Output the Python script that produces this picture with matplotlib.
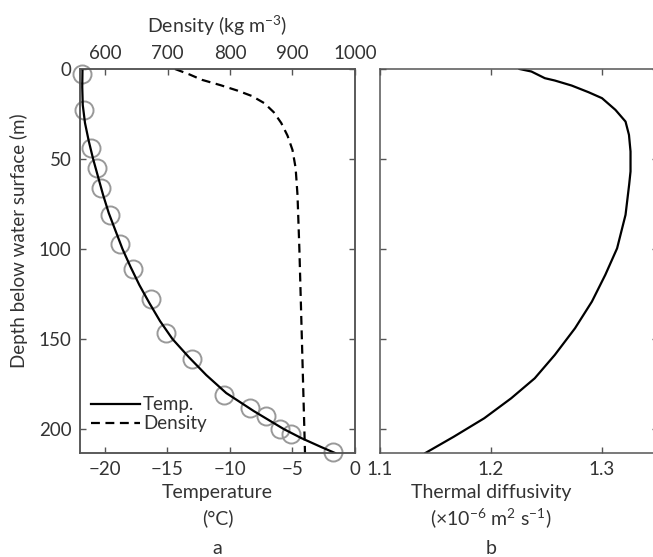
"""
Temperature, density and thermal diffusivity profiles below the water surface.
"""
import matplotlib

matplotlib.use("Agg")
import matplotlib.pyplot as plt
from matplotlib.lines import Line2D

# measured temperatures (circles)
obs_depth = [3, 23, 44, 55, 66, 81, 97, 111, 128, 146.5, 161, 181, 188.5, 193, 200, 203, 213]
obs_temp = [-21.85, -21.7, -21.1, -20.65, -20.35, -19.6, -18.8, -17.75, -16.3,
            -15.1, -13.0, -10.45, -8.4, -7.15, -6.0, -5.15, -1.75]

# fitted temperature profile
fit_depth = [0, 10, 20, 30, 40, 50, 60, 70, 80, 90, 100, 110, 120, 130, 140,
             150, 160, 170, 180, 190, 200, 205, 210, 213.3]
fit_temp = [-21.8, -21.82, -21.78, -21.6, -21.3, -20.95, -20.55, -20.15, -19.7,
            -19.15, -18.6, -17.95, -17.25, -16.45, -15.6, -14.6, -13.3, -11.9,
            -10.3, -8.1, -5.7, -4.3, -2.7, -1.6]

# density profile
dens_depth = [0, 3, 6, 9, 12, 15, 19, 24, 30, 37, 45, 55, 70, 100, 150, 213.3]
density = [712, 735, 755, 785, 812, 835, 855, 870, 882, 892, 900, 905, 908, 911, 915, 920]

# thermal diffusivity profile
diff_depth = [0, 1.4, 5.1, 6.4, 9.2, 12.9, 16.2, 22.7, 29.2, 36.6, 45.8, 56.9,
              64, 81, 99.6, 114.3, 129.2, 144, 158.8, 171.8, 182.9, 194, 204.2, 213.3]
diffusivity = [1.2257, 1.2364, 1.2485, 1.2575, 1.2727, 1.2879, 1.3, 1.3121,
               1.3212, 1.3243, 1.3257, 1.3257, 1.3245, 1.3212, 1.3136, 1.303,
               1.2909, 1.2757, 1.2575, 1.2394, 1.2182, 1.1939, 1.1666, 1.1409]

depth_ticks = [0, 50, 100, 150, 200]

plt.rcParams["font.family"] = ["Lato", "DejaVu Sans"]
plt.rcParams["mathtext.default"] = "regular"
plt.rcParams["font.size"] = 14

SPINE = "#555555"
TEXT = "#333333"
W, H = 653, 557
LW = 1.6


def _style(ax):
    for spine in ax.spines.values():
        spine.set_color(SPINE)
        spine.set_linewidth(1.1)
    ax.tick_params(direction="in", length=4, width=1, color=SPINE,
                   labelcolor=TEXT, labelsize=13.5)


fig = plt.figure(figsize=(W / 100, H / 100), dpi=100)

# panel a
ax1 = fig.add_axes([80 / W, 1 - 453 / H, 275 / W, 384 / H])
ax1.plot(fit_temp, fit_depth, "-", color="black", linewidth=LW, zorder=3)
ax1.plot(obs_temp, obs_depth, "o", markersize=13, markerfacecolor="none",
         markeredgecolor="#999999", markeredgewidth=1.4, zorder=2, clip_on=False)
ax1.set_xlim(-22, 0)
ax1.set_ylim(213.3, 0)
ax1.set_xticks([-20, -15, -10, -5, 0])
ax1.set_xticklabels(["\u221220", "\u221215", "\u221210", "\u22125", "0"])
ax1.set_yticks(depth_ticks)
_style(ax1)
ax1.tick_params(right=True, pad=6)
ax1.set_ylabel("Depth below water surface (m)", color=TEXT, fontsize=13.5)
ax1.yaxis.set_label_coords(-0.19, 0.552)
ax1.text(0.5, -0.104, "Temperature", transform=ax1.transAxes, ha="center",
         va="center", color=TEXT)
ax1.text(0.5, -0.17, "(\u00b0C)", transform=ax1.transAxes, ha="center",
         va="center", color=TEXT)
ax1.text(0.5, -0.25, "a", transform=ax1.transAxes, ha="center",
         va="center", color=TEXT)

ax1b = ax1.twiny()
ax1b.plot(density, dens_depth, "--", color="black", linewidth=LW, dashes=(4, 2.5))
ax1b.set_xlim(560, 1000)
ax1b.set_xticks([600, 700, 800, 900, 1000])
ax1b.set_ylim(213.3, 0)
_style(ax1b)
ax1b.tick_params(pad=5)
ax1b.set_xlabel("Density (kg m$^{-3}$)", color=TEXT, labelpad=9)

handles = [Line2D([], [], color="black", linewidth=LW),
           Line2D([], [], color="black", linewidth=LW, linestyle="--", dashes=(4, 2.5))]
ax1b.legend(handles, ["Temp.", "Density"], loc="lower left", frameon=False,
            handlelength=2.6, handletextpad=0.15, labelspacing=0.1,
            bbox_to_anchor=(0.0, 0.025), borderaxespad=0.2, fontsize=13.5,
            labelcolor=TEXT)

# panel b
ax2 = fig.add_axes([380 / W, 1 - 453 / H, 277.5 / W, 384 / H])
ax2.plot(diffusivity, diff_depth, "-", color="black", linewidth=LW)
ax2.set_xlim(1.1, 1.35)
ax2.set_ylim(213.3, 0)
ax2.set_xticks([1.1, 1.2, 1.3])
ax2.set_yticks(depth_ticks)
_style(ax2)
ax2.tick_params(labelleft=False, right=True, top=True, pad=6)
ax2.text(0.4, -0.104, "Thermal diffusivity", transform=ax2.transAxes,
         ha="center", va="center", color=TEXT)
ax2.text(0.4, -0.17, "(\u00d710$^{-6}$ m$^{2}$ s$^{-1}$)", transform=ax2.transAxes,
         ha="center", va="center", color=TEXT)
ax2.text(0.4, -0.25, "b", transform=ax2.transAxes, ha="center",
         va="center", color=TEXT)

fig.savefig("out.png", dpi=100)
